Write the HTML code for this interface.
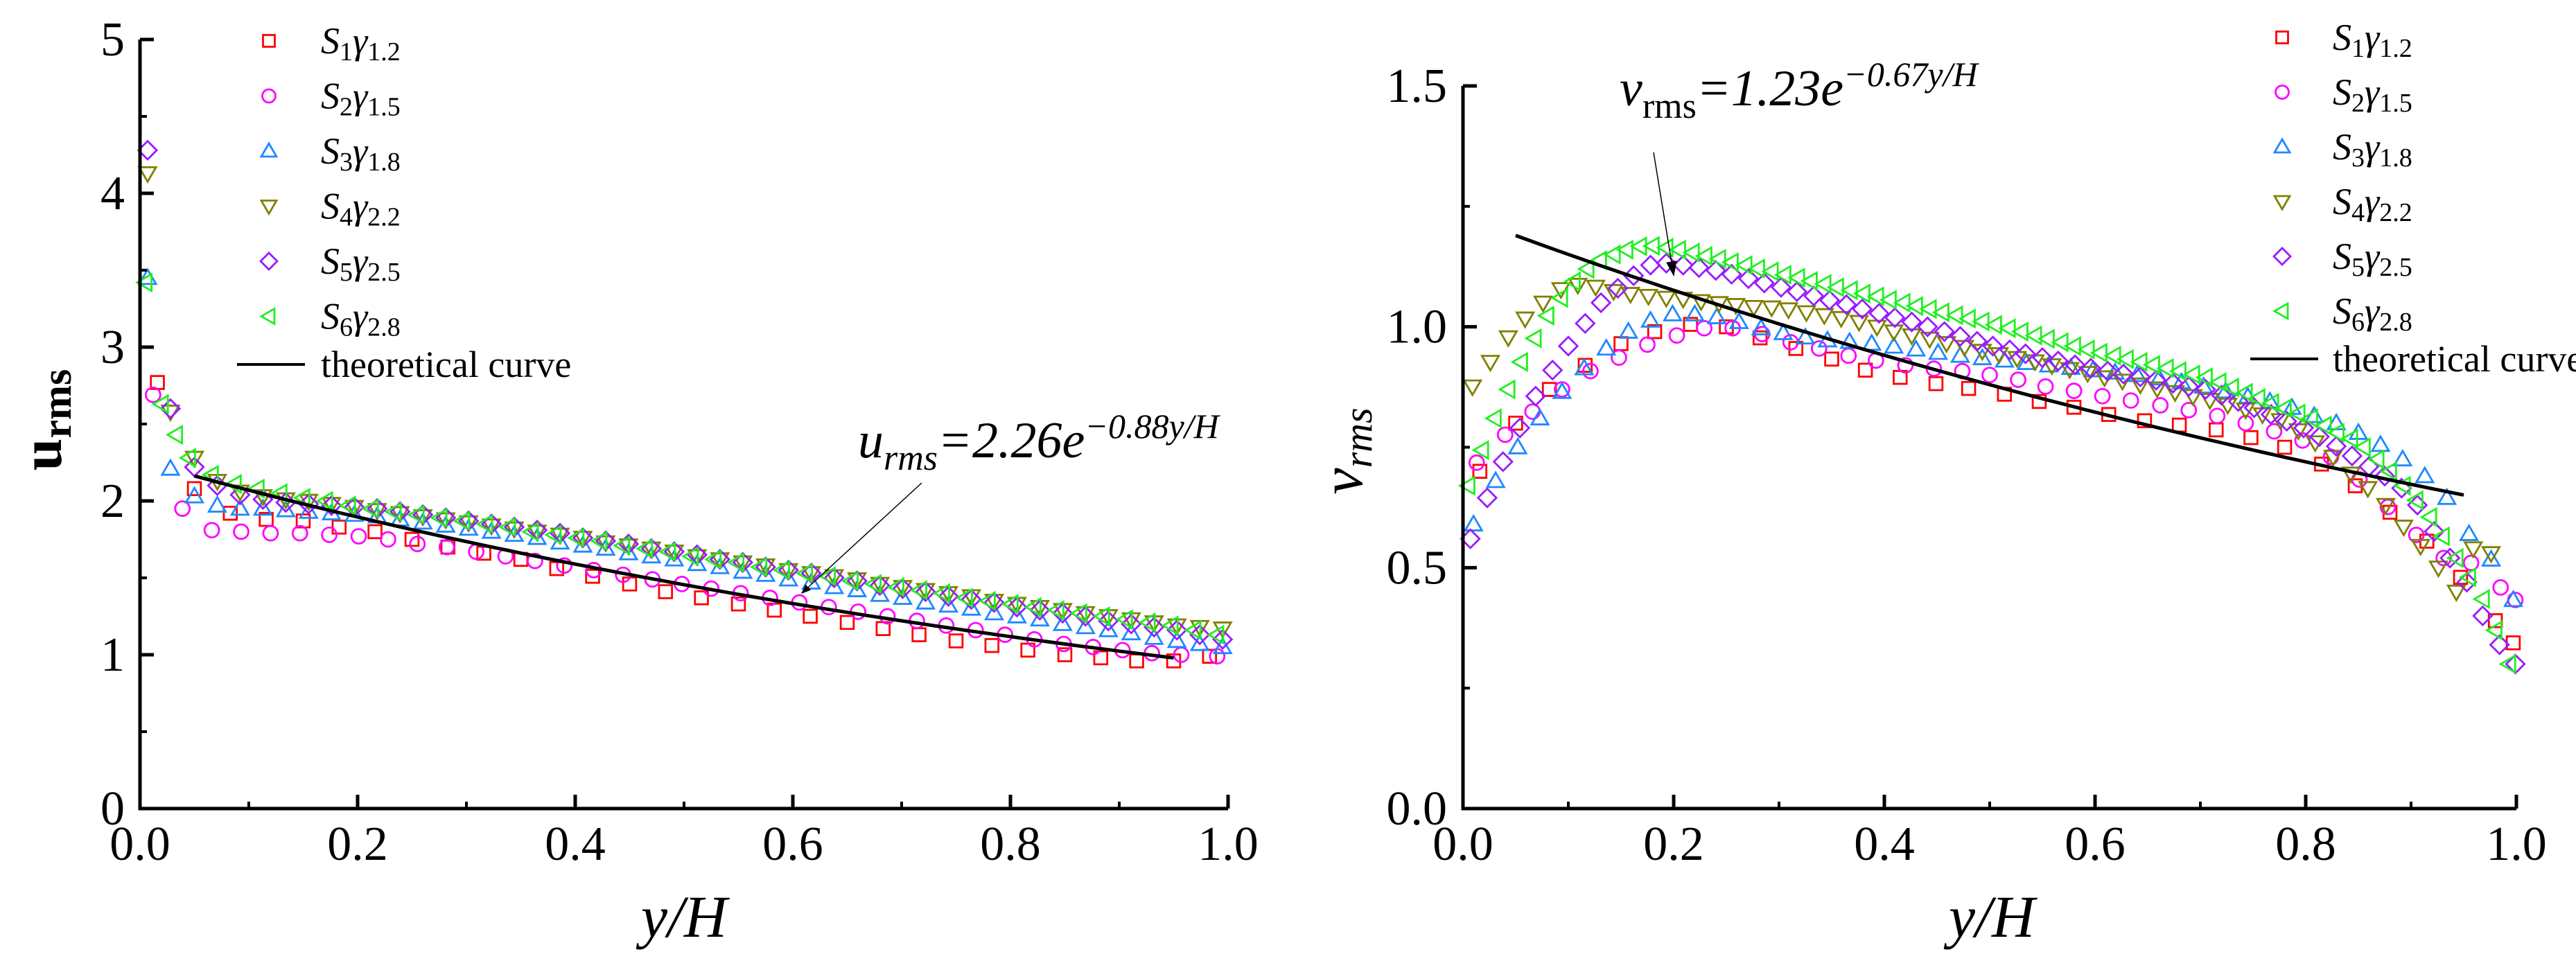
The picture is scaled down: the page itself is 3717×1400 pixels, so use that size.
<!DOCTYPE html>
<html><head><meta charset="utf-8">
<style>
html,body{margin:0;padding:0;background:#fff;}
svg{display:block;}
svg text{font-family:"Liberation Serif","Times New Roman",serif;}
</style></head>
<body>
<svg id="chart" width="3717" height="1400" viewBox="0 0 3717 1400" xmlns="http://www.w3.org/2000/svg" font-family="Liberation Serif, serif">
<defs>
<marker id="ah" viewBox="0 0 10 10" refX="9" refY="5" markerWidth="14" markerHeight="14" markerUnits="userSpaceOnUse" orient="auto"><path d="M0,1 L10,5 L0,9 z" fill="#000"/></marker>
<marker id="ah2" viewBox="0 0 10 10" refX="9" refY="5" markerWidth="30" markerHeight="22" markerUnits="userSpaceOnUse" orient="auto"><path d="M0,1.5 L10,5 L0,8.5 z" fill="#000"/></marker>
</defs>
<g id="left"></g>
<g id="right"></g>

<text transform="translate(88,606) rotate(-90)" text-anchor="middle" font-size="84" font-weight="bold">u<tspan font-size="60" dy="14">rms</tspan></text>
<text x="987" y="1352" text-anchor="middle" font-size="86" font-style="italic">y/H</text>
<text x="1238" y="660" font-size="74" font-style="italic">u<tspan font-size="52" dy="18">rms</tspan><tspan dy="-18">=2.26e</tspan><tspan font-size="50" dy="-28">−0.88y/H</tspan></text>
<line x1="1330" y1="697" x2="1157" y2="856" stroke="#000" stroke-width="1.5" marker-end="url(#ah)"/>

<text transform="translate(1965,651) rotate(-90)" text-anchor="middle" font-size="86" font-style="italic">v<tspan font-size="58" dy="14">rms</tspan></text>
<text x="2874" y="1352" text-anchor="middle" font-size="86" font-style="italic">y/H</text>
<text x="2337" y="152" font-size="74" font-style="italic">v<tspan font-size="52" dy="18" font-style="normal">rms</tspan><tspan dy="-18">=1.23e</tspan><tspan font-size="50" dy="-28">−0.67y/H</tspan></text>
<line x1="2386" y1="220" x2="2415" y2="397" stroke="#000" stroke-width="1.5" marker-end="url(#ah2)"/>
</svg>
<script>
const uX1 = [0.016,0.05,0.083,0.116,0.15,0.183,0.216,0.25,0.283,0.316,0.35,0.383,0.416,0.45,0.483,0.516,0.55,0.583,0.616,0.65,0.683,0.716,0.75,0.783,0.816,0.85,0.883,0.916,0.95,0.983];
const uY1 = [2.77,2.08,1.92,1.88,1.87,1.83,1.80,1.75,1.70,1.66,1.62,1.56,1.51,1.46,1.41,1.37,1.33,1.29,1.25,1.21,1.17,1.13,1.09,1.06,1.03,1.00,0.98,0.96,0.96,0.99];
const uX2 = [0.012,0.039,0.066,0.093,0.12,0.147,0.174,0.201,0.228,0.255,0.282,0.309,0.336,0.363,0.39,0.417,0.444,0.471,0.498,0.525,0.552,0.579,0.606,0.633,0.66,0.687,0.714,0.741,0.768,0.795,0.822,0.849,0.876,0.903,0.93,0.957,0.99];
const uY2 = [2.69,1.95,1.81,1.80,1.79,1.79,1.78,1.77,1.75,1.72,1.70,1.67,1.64,1.61,1.58,1.55,1.52,1.49,1.46,1.43,1.40,1.37,1.34,1.31,1.28,1.25,1.22,1.19,1.16,1.13,1.10,1.07,1.05,1.03,1.01,1.00,0.99];
const uX3 = [0.007,0.028,0.05,0.071,0.092,0.113,0.134,0.155,0.176,0.197,0.218,0.239,0.26,0.281,0.302,0.323,0.344,0.365,0.386,0.407,0.428,0.449,0.47,0.491,0.512,0.533,0.554,0.575,0.596,0.617,0.638,0.659,0.68,0.701,0.722,0.743,0.764,0.785,0.806,0.827,0.848,0.869,0.89,0.911,0.932,0.953,0.974,0.995];
const uY3 = [3.45,2.21,2.03,1.97,1.95,1.95,1.94,1.93,1.92,1.91,1.90,1.88,1.86,1.84,1.82,1.80,1.78,1.76,1.73,1.71,1.69,1.66,1.64,1.62,1.59,1.57,1.54,1.52,1.49,1.47,1.44,1.42,1.39,1.37,1.34,1.32,1.30,1.27,1.25,1.23,1.20,1.18,1.16,1.14,1.11,1.09,1.07,1.05];
const uY4 = [4.13,2.58,2.28,2.13,2.06,2.03,2.01,2.00,1.98,1.96,1.94,1.92,1.90,1.88,1.86,1.84,1.82,1.80,1.78,1.76,1.73,1.71,1.69,1.67,1.64,1.62,1.60,1.58,1.55,1.53,1.51,1.49,1.46,1.44,1.42,1.40,1.38,1.35,1.33,1.31,1.29,1.27,1.25,1.23,1.21,1.19,1.18,1.17];
const uY5 = [4.28,2.60,2.22,2.10,2.04,2.01,1.99,1.98,1.97,1.96,1.95,1.93,1.91,1.89,1.87,1.85,1.83,1.81,1.79,1.76,1.74,1.72,1.69,1.67,1.65,1.62,1.60,1.57,1.55,1.53,1.50,1.48,1.45,1.43,1.41,1.38,1.36,1.34,1.31,1.29,1.27,1.25,1.22,1.20,1.18,1.16,1.13,1.10];
const uX6 = [0.005,0.02,0.033,0.045,0.066,0.087,0.108,0.129,0.15,0.171,0.192,0.213,0.234,0.255,0.276,0.297,0.318,0.339,0.36,0.381,0.402,0.423,0.444,0.465,0.486,0.507,0.528,0.549,0.57,0.591,0.612,0.633,0.654,0.675,0.696,0.717,0.738,0.759,0.78,0.801,0.822,0.843,0.864,0.885,0.906,0.927,0.948,0.969,0.99];
const uY6 = [3.42,2.63,2.43,2.28,2.17,2.11,2.08,2.05,2.02,2.00,1.97,1.95,1.93,1.91,1.89,1.87,1.85,1.83,1.80,1.78,1.76,1.74,1.71,1.69,1.67,1.64,1.62,1.60,1.57,1.55,1.53,1.51,1.48,1.46,1.44,1.42,1.40,1.37,1.35,1.33,1.31,1.29,1.27,1.25,1.23,1.21,1.19,1.16,1.13];
const uFit = [2.26, -0.88];
const uYTicks = ["0","1","2","3","4","5"];

const vX1 = [0.016,0.05,0.082,0.116,0.15,0.182,0.216,0.25,0.282,0.316,0.35,0.382,0.415,0.449,0.48,0.514,0.547,0.58,0.613,0.647,0.68,0.715,0.748,0.78,0.815,0.847,0.88,0.915,0.947,0.98,0.997];
const vY1 = [0.70,0.80,0.87,0.92,0.965,0.99,1.005,1.0,0.977,0.955,0.933,0.91,0.895,0.882,0.872,0.86,0.845,0.833,0.818,0.805,0.796,0.786,0.77,0.75,0.715,0.67,0.615,0.555,0.48,0.39,0.344];
const vX2 = [0.013,0.04,0.066,0.094,0.121,0.148,0.175,0.203,0.229,0.256,0.284,0.311,0.338,0.366,0.392,0.42,0.447,0.474,0.5,0.527,0.553,0.58,0.607,0.634,0.662,0.689,0.716,0.743,0.77,0.797,0.824,0.851,0.878,0.905,0.931,0.957,0.985,0.999];
const vY2 = [0.718,0.776,0.824,0.87,0.908,0.936,0.963,0.982,0.997,0.997,0.985,0.968,0.955,0.94,0.93,0.92,0.913,0.908,0.9,0.89,0.876,0.867,0.856,0.847,0.837,0.827,0.815,0.8,0.783,0.764,0.73,0.683,0.626,0.568,0.52,0.51,0.459,0.433];
const vX3 = [0.01,0.031,0.052,0.073,0.094,0.115,0.136,0.157,0.178,0.199,0.22,0.241,0.262,0.283,0.304,0.325,0.346,0.367,0.388,0.409,0.43,0.451,0.472,0.493,0.514,0.535,0.556,0.577,0.598,0.619,0.64,0.661,0.682,0.703,0.724,0.745,0.766,0.787,0.808,0.829,0.85,0.871,0.892,0.913,0.934,0.955,0.976,0.997];
const vY3 = [0.59,0.68,0.75,0.81,0.865,0.914,0.955,0.99,1.013,1.026,1.026,1.02,1.01,0.997,0.987,0.978,0.972,0.969,0.965,0.959,0.953,0.946,0.94,0.935,0.93,0.925,0.92,0.915,0.91,0.905,0.9,0.893,0.885,0.876,0.866,0.855,0.845,0.832,0.815,0.8,0.78,0.755,0.725,0.69,0.645,0.57,0.517,0.433];
const vX4 = [0.009,0.026,0.043,0.059,0.076,0.093,0.109,0.126,0.143,0.159,0.176,0.193,0.209,0.226,0.243,0.259,0.276,0.293,0.309,0.326,0.343,0.359,0.376,0.393,0.409,0.426,0.443,0.459,0.476,0.493,0.509,0.526,0.543,0.559,0.576,0.593,0.609,0.626,0.643,0.659,0.676,0.693,0.709,0.726,0.743,0.759,0.776,0.793,0.809,0.826,0.843,0.859,0.876,0.893,0.909,0.926,0.943,0.959,0.976];
const vY4 = [0.876,0.927,0.978,1.017,1.05,1.078,1.087,1.083,1.074,1.068,1.064,1.06,1.058,1.053,1.049,1.045,1.041,1.04,1.036,1.03,1.024,1.018,1.01,1.0,0.99,0.982,0.975,0.966,0.958,0.95,0.943,0.935,0.928,0.92,0.912,0.904,0.895,0.888,0.88,0.872,0.864,0.856,0.848,0.838,0.828,0.818,0.806,0.785,0.76,0.73,0.695,0.665,0.63,0.585,0.545,0.5,0.45,0.54,0.53];
const vX5 = [0.007,0.023,0.038,0.054,0.069,0.085,0.1,0.116,0.131,0.147,0.162,0.178,0.193,0.209,0.224,0.24,0.255,0.271,0.286,0.302,0.317,0.333,0.348,0.364,0.379,0.395,0.41,0.426,0.441,0.457,0.472,0.488,0.503,0.519,0.534,0.55,0.565,0.581,0.596,0.612,0.627,0.643,0.658,0.674,0.689,0.705,0.72,0.736,0.751,0.767,0.782,0.798,0.813,0.829,0.844,0.86,0.875,0.891,0.906,0.922,0.937,0.953,0.968,0.984,0.999];
const vY5 = [0.56,0.645,0.72,0.79,0.856,0.91,0.96,1.007,1.05,1.08,1.106,1.128,1.132,1.128,1.123,1.117,1.109,1.10,1.091,1.082,1.073,1.064,1.055,1.046,1.037,1.028,1.019,1.01,1.0,0.99,0.98,0.97,0.96,0.952,0.944,0.936,0.929,0.921,0.914,0.908,0.902,0.896,0.889,0.883,0.876,0.87,0.858,0.845,0.832,0.818,0.804,0.79,0.772,0.752,0.732,0.71,0.69,0.665,0.63,0.575,0.52,0.47,0.4,0.34,0.3];
const vX6 = [0.005,0.018,0.03,0.043,0.055,0.068,0.08,0.093,0.105,0.118,0.13,0.143,0.155,0.168,0.18,0.193,0.205,0.218,0.23,0.243,0.255,0.268,0.28,0.293,0.305,0.318,0.33,0.343,0.355,0.368,0.38,0.393,0.405,0.418,0.43,0.443,0.455,0.468,0.48,0.493,0.505,0.518,0.53,0.543,0.555,0.568,0.58,0.593,0.605,0.618,0.63,0.643,0.655,0.668,0.68,0.693,0.705,0.718,0.73,0.743,0.755,0.768,0.78,0.793,0.805,0.818,0.83,0.843,0.855,0.868,0.88,0.893,0.905,0.918,0.93,0.943,0.955,0.968,0.98,0.993];
const vY6 = [0.67,0.744,0.81,0.87,0.927,0.976,1.023,1.06,1.094,1.12,1.138,1.15,1.16,1.167,1.168,1.164,1.16,1.154,1.147,1.141,1.134,1.128,1.121,1.115,1.108,1.102,1.095,1.089,1.082,1.076,1.069,1.063,1.056,1.05,1.043,1.037,1.03,1.024,1.017,1.011,1.004,0.997,0.99,0.982,0.975,0.968,0.96,0.953,0.946,0.94,0.933,0.927,0.921,0.914,0.908,0.901,0.895,0.885,0.874,0.863,0.852,0.842,0.831,0.82,0.81,0.795,0.78,0.768,0.75,0.725,0.70,0.67,0.64,0.605,0.565,0.52,0.48,0.435,0.37,0.3];
const vFit = [1.23, -0.67];
const vYTicks = ["0.0","0.5","1.0","1.5"];
const xTicks = ["0.0","0.2","0.4","0.6","0.8","1.0"];
const legendLabels = [["1","1.2"],["2","1.5"],["3","1.8"],["4","2.2"],["5","2.5"],["6","2.8"]];

const NS = "http://www.w3.org/2000/svg";
function mk(tag, attrs, parent){const e=document.createElementNS(NS,tag);for(const k in attrs)e.setAttribute(k,attrs[k]);parent.appendChild(e);return e;}
const styles = [
  {shape:"square", color:"#ff0000"},
  {shape:"circle", color:"#ff00ff"},
  {shape:"up", color:"#1e88ff"},
  {shape:"down", color:"#808000"},
  {shape:"diamond", color:"#9a1bff"},
  {shape:"left", color:"#22ee22"}
];
function marker(g, shape, color, cx, cy, r){
  let e;
  const a={fill:"none",stroke:color,"stroke-width":2.8};
  if(shape==="square"){e=mk("rect",Object.assign({x:cx-r*0.85,y:cy-r*0.85,width:r*1.7,height:r*1.7},a),g);}
  else if(shape==="circle"){e=mk("circle",Object.assign({cx:cx,cy:cy,r:r*0.95},a),g);}
  else{
    let p;
    if(shape==="up")p=[[cx,cy-r*1.1],[cx+r*1.1,cy+r*0.8],[cx-r*1.1,cy+r*0.8]];
    else if(shape==="down")p=[[cx,cy+r*1.1],[cx+r*1.1,cy-r*0.8],[cx-r*1.1,cy-r*0.8]];
    else if(shape==="left")p=[[cx-r*1.1,cy],[cx+r*0.8,cy-r*1.1],[cx+r*0.8,cy+r*1.1]];
    else p=[[cx,cy-r*1.2],[cx+r*1.2,cy],[cx,cy+r*1.2],[cx-r*1.2,cy]];
    e=mk("polygon",Object.assign({points:p.map(q=>q.join(",")).join(" ")},a),g);
  }
  return e;
}

function panel(cfg){
  const g=document.getElementById(cfg.id);
  const sx=v=>cfg.x0+(cfg.x1-cfg.x0)*v;
  const sy=v=>cfg.y0-(cfg.y0-cfg.yTop)*(v-cfg.ymin)/(cfg.ymax-cfg.ymin);
  cfg.series.forEach((s,i)=>{
    const sg=mk("g",{},g);
    
    
    s.y.forEach((v,j)=>{
      const m=marker(sg,styles[i].shape,styles[i].color,sx(s.x[j]),sy(v),11);
      
      
    });
  });
  let d="";
  for(let k=0;k<=90;k++){const xv=0.05+k*0.01;const yv=cfg.fit[0]*Math.exp(cfg.fit[1]*xv);d+=(k?"L":"M")+sx(xv).toFixed(1)+","+sy(yv).toFixed(1);}
  const curve=mk("path",{d:d,fill:"none",stroke:"#000","stroke-width":5},g);
  
  
  const ax=mk("path",{d:`M${cfg.x0},${cfg.yTop} L${cfg.x0},${cfg.y0} L${cfg.x1},${cfg.y0}`,fill:"none",stroke:"#000","stroke-width":5},g);
  
  
  xTicks.forEach((t,i)=>{
    const v=i*0.2;
    mk("line",{x1:sx(v),y1:cfg.y0,x2:sx(v),y2:cfg.y0-20,stroke:"#000","stroke-width":5},g);
    if(i<5)mk("line",{x1:sx(v+0.1),y1:cfg.y0,x2:sx(v+0.1),y2:cfg.y0-10,stroke:"#000","stroke-width":4},g);
    const tx=mk("text",{x:sx(v),y:1241,"text-anchor":"middle","font-size":70},g);
    tx.textContent=t;
    
    
  });
  cfg.yTicks.forEach((t,i)=>{
    const v=cfg.ymin+i*cfg.ystep;
    mk("line",{x1:cfg.x0,y1:sy(v),x2:cfg.x0+20,y2:sy(v),stroke:"#000","stroke-width":5},g);
    if(i<cfg.yTicks.length-1)mk("line",{x1:cfg.x0,y1:sy(v+cfg.ystep/2),x2:cfg.x0+10,y2:sy(v+cfg.ystep/2),stroke:"#000","stroke-width":4},g);
    const ty=mk("text",{x:cfg.labelRight,y:sy(v)+23,"text-anchor":"end","font-size":70},g);
    ty.textContent=t;
    
    
  });
  legendLabels.forEach((l,i)=>{
    const ly=cfg.legY+i*cfg.legStep;
    const lg=mk("g",{},g);
    
    
    marker(lg,styles[i].shape,styles[i].color,cfg.legMX,ly,10);
    const t=mk("text",{x:cfg.legTX,y:ly+18,"font-size":54,"font-style":"italic"},lg);
    t.innerHTML=`S<tspan font-size="38" dy="10" font-style="normal">${l[0]}</tspan><tspan dy="-10">γ</tspan><tspan font-size="38" dy="10" font-style="normal">${l[1]}</tspan>`;
  });
  const ly=cfg.legY+6*cfg.legStep-4;
  const lg=mk("g",{},g);
  
  
  mk("line",{x1:cfg.legMX-46,y1:ly-6,x2:cfg.legMX+52,y2:ly-6,stroke:"#000","stroke-width":4},lg);
  const t=mk("text",{x:cfg.legTX,y:ly+12,"font-size":54},lg);
  t.textContent="theoretical curve";
}

panel({id:"left",x0:202,x1:1772,y0:1167,yTop:57,ymin:0,ymax:5,ystep:1,yTicks:uYTicks,labelRight:180,fit:uFit,
  series:[{x:uX1,y:uY1},{x:uX2,y:uY2},{x:uX3,y:uY3},{x:uX3,y:uY4},{x:uX3,y:uY5},{x:uX6,y:uY6}],
  legY:59,legStep:79.5,legMX:388,legTX:463});
panel({id:"right",x0:2111,x1:3631,y0:1167,yTop:124,ymin:0,ymax:1.5,ystep:0.5,yTicks:vYTicks,labelRight:2088,fit:vFit,
  series:[{x:vX1,y:vY1},{x:vX2,y:vY2},{x:vX3,y:vY3},{x:vX4,y:vY4},{x:vX5,y:vY5},{x:vX6,y:vY6}],
  legY:54,legStep:79,legMX:3293,legTX:3366});
</script>
</body></html>
